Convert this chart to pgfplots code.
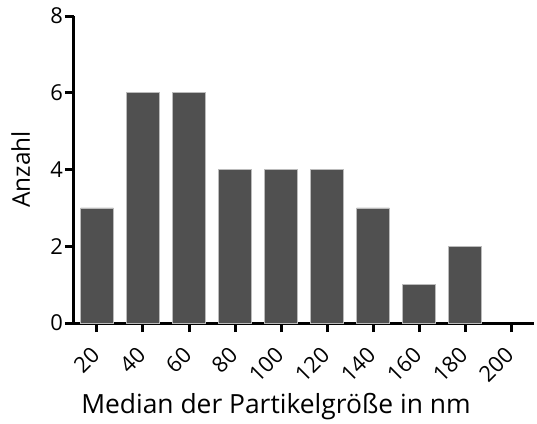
\documentclass[border=0pt]{standalone}
\usepackage{fontspec}
\setmainfont{Open Sans}
\usepackage{pgfplots}
\pgfplotsset{compat=1.18}
\definecolor{barfill}{HTML}{505050}
\definecolor{baredge}{HTML}{BBBBBB}
\newcommand{\tickfont}{\fontsize{22}{25}\selectfont}
\begin{document}
\begin{tikzpicture}
\begin{axis}[
  at={(0,0)}, anchor=south west,
  scale only axis,
  width=460bp, height=307bp,
  xmin=10, xmax=210, ymin=0, ymax=8,
  axis x line=bottom, axis y line=left,
  axis line style={line width=3bp, -},
  every outer x axis line/.append style={line width=3bp},
  every outer y axis line/.append style={line width=3bp},
  xtick={20,40,...,200}, ytick={0,2,4,6,8},
  every tick/.style={line width=3bp, black},
  major tick length=9bp,
  tick align=outside,
  xticklabel={\tickfont\pgfmathprintnumber[assume math mode=true]{\tick}},
  yticklabel={\tickfont\pgfmathprintnumber[assume math mode=true]{\tick}},
  tick label style={font=\tickfont},
  xticklabel style={xshift=-1.5bp, yshift=-19bp, rotate=45, anchor=east, inner sep=0pt},
  yticklabel style={inner sep=2bp},
  xlabel={Median der Partikelgröße in nm},
  ylabel={Anzahl},
  xlabel style={font=\fontsize{26.5}{30}\selectfont, at={(rel axis cs:0.439,0)}, anchor=base, yshift=-90bp},
  ylabel style={font=\fontsize{24.5}{28}\selectfont, anchor=base},
  every axis y label/.append style={at={(-44bp,153.5bp)}},
  clip=false,
]
\addplot[ybar, bar width=14.3, fill=barfill, draw=baredge, line width=0.6bp]
  coordinates {(20,3) (40,6) (60,6) (80,4) (100,4) (120,4) (140,3) (160,1) (180,2)};
\end{axis}
\pgfresetboundingbox
\path[use as bounding box] (-74bp,-101bp) rectangle (463bp,323bp);
\end{tikzpicture}
\end{document}
